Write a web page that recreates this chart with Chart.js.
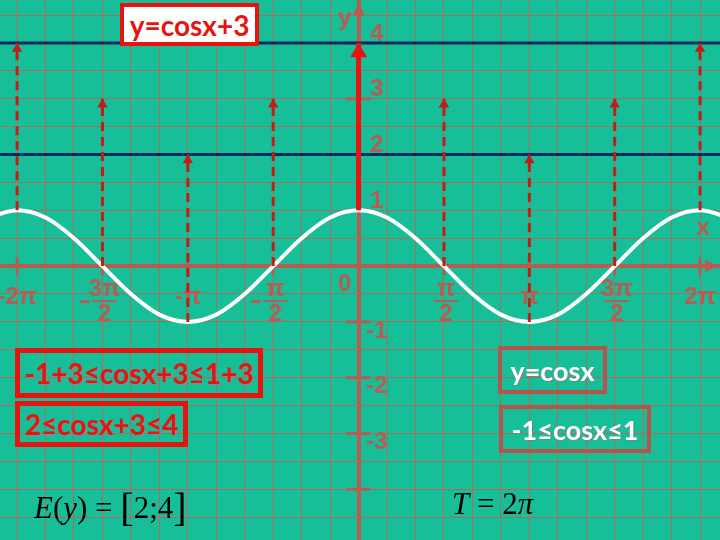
<!DOCTYPE html>
<html>
<head>
<meta charset="utf-8">
<script src="https://cdn.jsdelivr.net/npm/chart.js@4"></script>
<style>
  body { margin: 0; }
  #wrap { position: relative; width: 720px; height: 540px; background: #17bf99; overflow: hidden; }
  canvas { position: absolute; left: 0; top: 0; }
  .box { position: absolute; box-sizing: border-box; display: flex; align-items: center; justify-content: center;
         font-family: Lato, "Open Sans", sans-serif; font-weight: bold; white-space: nowrap; }
  .red { border: 5px solid #e8130f; color: #e8130f; text-shadow: 1px 1px 1px #8a8a8a; }
  .pale { border: 4px solid #b8534c; color: #ffffff; text-shadow: 1px 1px 1px #6a8a80; }
  .math { position: absolute; font-family: "Liberation Serif", serif; color: #000; font-size: 31px; white-space: nowrap; }
</style>
</head>
<body>
<div id="wrap">
  <canvas id="cosChart" width="720" height="540"></canvas>
  <div class="box red" style="left:120px;top:3px;width:139px;height:43px;background:#fff;border-width:4px;font-size:28px;text-shadow:none;">y=cosx+3</div>
  <div class="box red" style="left:15px;top:348px;width:248px;height:50px;font-size:28px;">-1+3≤cosx+3≤1+3</div>
  <div class="box red" style="left:15px;top:401px;width:173px;height:46px;font-size:28px;">2≤cosx+3≤4</div>
  <div class="box pale" style="left:498px;top:346px;width:109px;height:48px;font-size:27px;">y=cosx</div>
  <div class="box pale" style="left:499px;top:405px;width:152px;height:48px;font-size:27px;">-1≤cosx≤1</div>
  <div class="math" style="left:34px;top:484px;"><i>E</i>(<i>y</i>) = <span style="font-size:40px;vertical-align:-3px;">[</span>2;4<span style="font-size:40px;vertical-align:-3px;">]</span></div>
  <div class="math" style="left:452px;top:486px;"><i>T</i> = 2<i>π</i></div>
</div>
<script>
// y = cos x  ->  y = cos x + 3, x in steps of pi/6
const curveX = [-13, -12, -11, -10, -9, -8, -7, -6, -5, -4, -3, -2, -1, 0, 1, 2, 3, 4, 5, 6, 7, 8, 9, 10, 11, 12, 13];
const curveY = [0.87, 1, 0.87, 0.5, 0, -0.5, -0.87, -1, -0.87, -0.5, 0, 0.5, 0.87, 1, 0.87, 0.5, 0, -0.5, -0.87, -1, -0.87, -0.5, 0, 0.5, 0.87, 1, 0.87];

// dashed arrows: from cos x up to cos x + 3
const arrowX    = [-12, -9, -6, -3, 3, 6, 9, 12];
const arrowFrom = [1, 0, -1, 0, 0, -1, 0, 1];
const arrowTo   = [4, 3, 2, 3, 3, 2, 3, 4];

// solid arrow on the y axis
const mainArrowX = 0;
const mainArrowFrom = 1;
const mainArrowTo = 4;

// bounds of E(y)
const rangeLines = [4, 2];

// tick labels
const xTickPos  = [-12, -9, -6, -3, 3, 6, 9, 12];
const xTickText = ['-2π', '-3π/2', '-π', '-π/2', 'π/2', 'π', '3π/2', '2π'];
const yTickPos  = [4, 3, 2, 1, -1, -2, -3];
const yTickText = ['4', '3', '2', '1', '-1', '-2', '-3'];
const yMarkPos  = [4, 3, 2, 1, -1, -2, -3, -4];

const gridColor = '#ad6a5e';
const axisColor = '#bb5a50';
const dashColor = '#c41c16';

// axes, arrows and labels drawn under the datasets
const axisDecor = {
    id: 'axisDecor',
    beforeDatasetsDraw(chart) {
        const { ctx, scales: { x, y } } = chart;
        const x0 = x.getPixelForValue(0);
        const y0 = y.getPixelForValue(0);
        ctx.save();
        ctx.fillStyle = axisColor;
        ctx.strokeStyle = axisColor;

        // arrow heads of the axes
        ctx.beginPath();
        ctx.moveTo(x0, 2); ctx.lineTo(x0 - 6, 16); ctx.lineTo(x0 + 6, 16);
        ctx.fill();
        ctx.beginPath();
        ctx.moveTo(719, y0); ctx.lineTo(705, y0 - 6); ctx.lineTo(705, y0 + 6);
        ctx.fill();

        // small tick marks
        ctx.lineWidth = 3;
        yMarkPos.forEach(v => {
            const py = y.getPixelForValue(v);
            ctx.beginPath(); ctx.moveTo(x0 - 12, py); ctx.lineTo(x0 + 12, py); ctx.stroke();
        });
        xTickPos.forEach(v => {
            const px = x.getPixelForValue(v);
            ctx.beginPath(); ctx.moveTo(px, y0 - 9); ctx.lineTo(px, y0 + 9); ctx.stroke();
        });

        ctx.font = 'bold 24px "Liberation Sans Narrow", "Liberation Sans", sans-serif';
        ctx.textAlign = 'center';
        ctx.textBaseline = 'middle';

        // x labels, fractions stacked
        xTickPos.forEach((v, i) => {
            const px = x.getPixelForValue(v);
            let t = xTickText[i];
            if (t.includes('/')) {
                const neg = t.startsWith('-');
                if (neg) t = t.slice(1);
                const [num, den] = t.split('/');
                ctx.fillText(num, px + 2, y0 + 23);
                ctx.fillRect(px - 10, y0 + 34, 24, 2);
                ctx.fillText(den, px + 2, y0 + 48);
                if (neg) ctx.fillRect(px - 22, y0 + 34, 9, 3);
            } else {
                ctx.fillText(t, px, y0 + 31);
            }
        });

        // y labels
        yTickPos.forEach((v, i) => {
            const py = y.getPixelForValue(v);
            ctx.fillText(yTickText[i], x0 + 18, v > 0 ? py - 9 : py + 9);
        });
        ctx.fillText('0', x0 - 14, y0 + 18);
        ctx.fillText('y', x0 - 14, 18);
        ctx.fillText('x', 703, y0 - 38);
        ctx.restore();
    }
};

// arrowheads with the tip on the end point of each arrow dataset
const arrowHeads = {
    id: 'arrowHeads',
    afterDatasetsDraw(chart) {
        const ctx = chart.ctx;
        ctx.save();
        chart.data.datasets.forEach((ds, i) => {
            if (!ds.headSize) return;
            const end = chart.getDatasetMeta(i).data[1];
            const s = ds.headSize;
            ctx.fillStyle = ds.borderColor;
            ctx.beginPath();
            ctx.moveTo(end.x, end.y);
            ctx.lineTo(end.x - s * 0.65, end.y + s * 1.1);
            ctx.lineTo(end.x + s * 0.65, end.y + s * 1.1);
            ctx.closePath();
            ctx.fill();
        });
        ctx.restore();
    }
};

const datasets = [];

// main solid arrow
datasets.push({
    data: [{ x: mainArrowX, y: mainArrowFrom }, { x: mainArrowX, y: mainArrowTo }],
    borderColor: '#ee1010',
    borderWidth: 5,
    pointRadius: 0,
    headSize: 13
});

// dashed arrows
arrowX.forEach((ax, i) => {
    datasets.push({
        data: [{ x: ax, y: arrowFrom[i] }, { x: ax, y: arrowTo[i] }],
        borderColor: dashColor,
        borderWidth: 3,
        borderDash: [9, 6],
        pointRadius: 0,
        headSize: 8
    });
});

// cosine curve
datasets.push({
    data: curveX.map((cx, i) => ({ x: cx, y: curveY[i] })),
    borderColor: '#ffffff',
    borderWidth: 4,
    cubicInterpolationMode: 'monotone',
    pointRadius: 0
});

// navy range lines
rangeLines.forEach(level => {
    datasets.push({
        data: [{ x: -14, y: level }, { x: 14, y: level }],
        borderColor: '#0c2a5e',
        borderWidth: 3,
        pointRadius: 0
    });
});

datasets.forEach(d => { d.showLine = true; });

new Chart(document.getElementById('cosChart'), {
    type: 'scatter',
    data: { datasets: datasets },
    options: {
        responsive: false,
        animation: false,
        events: [],
        layout: { padding: 0, autoPadding: false },
        plugins: {
            legend: { display: false },
            tooltip: { enabled: false }
        },
        scales: {
            x: {
                type: 'linear',
                min: -12.6,
                max: 12.7,
                border: { display: false },
                ticks: { display: false, stepSize: 1, includeBounds: false, maxTicksLimit: 100 },
                grid: {
                    drawTicks: false,
                    color: c => c.tick && c.tick.value === 0 ? axisColor : gridColor,
                    lineWidth: c => c.tick && c.tick.value === 0 ? 4 : 1
                }
            },
            y: {
                type: 'linear',
                min: -4.91,
                max: 4.77,
                border: { display: false },
                ticks: { display: false, stepSize: 0.5, includeBounds: false, maxTicksLimit: 100 },
                grid: {
                    drawTicks: false,
                    color: c => c.tick && c.tick.value === 0 ? axisColor : gridColor,
                    lineWidth: c => c.tick && c.tick.value === 0 ? 4 : 1
                }
            }
        }
    },
    plugins: [axisDecor, arrowHeads]
});
</script>
</body>
</html>
